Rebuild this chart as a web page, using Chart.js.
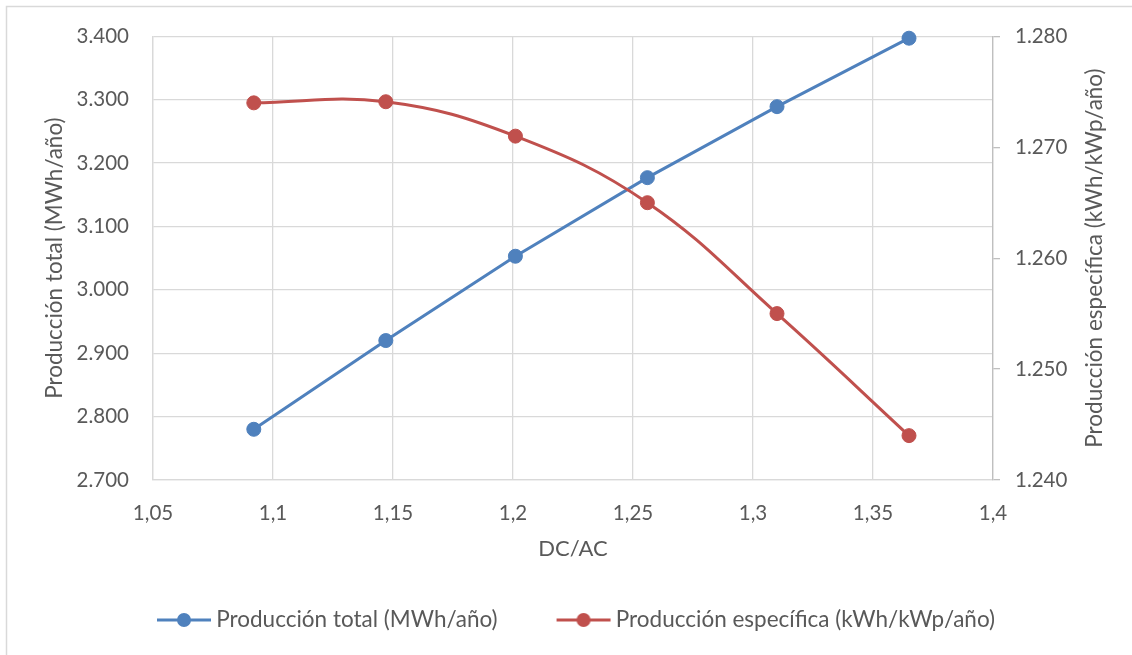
<!DOCTYPE html>
<html>
<head>
<meta charset="utf-8">
<script src="https://cdn.jsdelivr.net/npm/chart.js@4/dist/chart.umd.min.js"></script>
<style>
    html, body { margin: 0; padding: 0; background: #fff; }
    #wrap { width: 1132px; height: 655px; }
</style>
</head>
<body>
<div id="wrap"><canvas id="grafico" width="1132" height="655"></canvas></div>
<script>
// datos
const dcac = [1.092, 1.147, 1.201, 1.256, 1.310, 1.365];
const prodTotal = [2780, 2920, 3053, 3177, 3289, 3397];          // MWh/año
const prodEspecifica = [1274.0, 1274.1, 1271.0, 1265.0, 1255.0, 1244.0]; // kWh/kWp/año

const nombres = ['Producción total (MWh/año)', 'Producción específica (kWh/kWp/año)'];
const colores = ['#4F81BD', '#C0504D'];
const tituloDerecho = 'Producción específica (kWh/kWp/año)';

const fuente = 'Lato, "Open Sans", sans-serif';
const gris = '#595959';
const tamTitulo = 22.5;

function miles(v) {
    // 3400 -> 3.400
    let s = Math.round(v).toString();
    return s.replace(/\B(?=(\d{3})+(?!\d))/g, '.');
}
function decimal(v) {
    return (Math.round(v * 100) / 100).toString().replace('.', ',');
}

// icono de leyenda: linea con circulo (pegado a la derecha de la imagen)
const anchoCaja = 97;
function iconoLeyenda(color) {
    const c = document.createElement('canvas');
    c.width = anchoCaja + 14;
    c.height = 16;
    const ctx = c.getContext('2d');
    const x0 = c.width - 56;
    ctx.strokeStyle = color;
    ctx.lineWidth = 3;
    ctx.beginPath();
    ctx.moveTo(x0 + 1, 8);
    ctx.lineTo(x0 + 55, 8);
    ctx.stroke();
    ctx.fillStyle = color;
    ctx.beginPath();
    ctx.arc(x0 + 28, 8, 7, 0, Math.PI * 2);
    ctx.fill();
    return c;
}

const marco = {
    id: 'marco',
    beforeDraw(chart) {
        const ctx = chart.ctx;
        ctx.save();
        ctx.fillStyle = '#fff';
        ctx.fillRect(0, 0, chart.width, chart.height);
        ctx.strokeStyle = '#d9d9d9';
        ctx.lineWidth = 1.5;
        ctx.beginPath();
        ctx.moveTo(6.5, chart.height);
        ctx.lineTo(6.5, 6.5);
        ctx.lineTo(chart.width, 6.5);
        ctx.stroke();
        ctx.restore();
    },
    afterDraw(chart) {
        // titulo del eje derecho leido de abajo hacia arriba, como en Excel
        const ctx = chart.ctx;
        const a = chart.chartArea;
        ctx.save();
        ctx.translate(a.right + 102, (a.top + a.bottom) / 2);
        ctx.rotate(-Math.PI / 2);
        ctx.fillStyle = gris;
        ctx.font = tamTitulo + 'px ' + fuente;
        ctx.textAlign = 'center';
        ctx.textBaseline = 'middle';
        ctx.fillText(tituloDerecho, 0, 0);
        ctx.restore();
    }
};

const puntos = (ys) => dcac.map((x, i) => ({x: x, y: ys[i]}));

new Chart(document.getElementById('grafico'), {
    type: 'scatter',
    data: {
        datasets: [
            {
                label: nombres[0],
                data: puntos(prodTotal),
                yAxisID: 'y',
                showLine: true,
                tension: 0,
                borderColor: colores[0],
                backgroundColor: colores[0],
                borderWidth: 3,
                pointRadius: 7,
                pointBorderWidth: 1,
                clip: false,
                order: 1
            },
            {
                label: nombres[1],
                data: puntos(prodEspecifica),
                yAxisID: 'y1',
                showLine: true,
                tension: 0.4,
                borderColor: colores[1],
                backgroundColor: colores[1],
                borderWidth: 3,
                pointRadius: 7,
                pointBorderWidth: 1,
                clip: false,
                order: 0
            }
        ]
    },
    options: {
        responsive: false,
        animation: false,
        layout: { padding: { top: 35, bottom: 13.75, left: 0, right: 29 } },
        plugins: {
            tooltip: { enabled: false },
            legend: {
                position: 'bottom',
                labels: {
                    usePointStyle: true,
                    pointStyleWidth: anchoCaja,
                    padding: 10,
                    color: gris,
                    font: { family: fuente, size: 22.5 },
                    generateLabels: function (chart) {
                        return nombres.map((n, i) => ({
                            text: n,
                            fillStyle: colores[i],
                            strokeStyle: colores[i],
                            fontColor: gris,
                            lineWidth: 0,
                            pointStyle: iconoLeyenda(colores[i]),
                            datasetIndex: i,
                            hidden: false
                        }));
                    }
                }
            }
        },
        scales: {
            x: {
                type: 'linear',
                min: 1.05,
                max: 1.4,
                afterFit: (s) => { s.height = 118.75; },
                ticks: {
                    stepSize: 0.05,
                    padding: 21,
                    color: gris,
                    font: { family: fuente, size: 20.5 },
                    callback: (v) => decimal(v)
                },
                grid: { color: '#d9d9d9', lineWidth: 1.3, drawTicks: false },
                border: { color: '#d9d9d9', width: 1.3 },
                title: {
                    display: true,
                    text: 'DC/AC',
                    color: gris,
                    font: { family: fuente, size: 22 },
                    padding: { top: 0, bottom: 36.5 }
                }
            },
            y: {
                position: 'left',
                min: 2700,
                max: 3400,
                afterFit: (s) => { s.width = 153; },
                ticks: {
                    stepSize: 100,
                    padding: 24,
                    color: gris,
                    font: { family: fuente, size: 20.5 },
                    callback: (v) => miles(v)
                },
                grid: { color: '#d9d9d9', lineWidth: 1.3, drawTicks: false },
                border: { color: '#d9d9d9', width: 1.3 },
                title: {
                    display: true,
                    text: 'Producción total (MWh/año)',
                    color: gris,
                    font: { family: fuente, size: tamTitulo },
                    padding: { top: 41.5, bottom: 0 }
                }
            },
            y1: {
                position: 'right',
                min: 1240,
                max: 1280,
                afterFit: (s) => { s.width = 110; },
                ticks: {
                    stepSize: 10,
                    padding: 15,
                    color: gris,
                    font: { family: fuente, size: 20.5 },
                    callback: (v) => miles(v)
                },
                grid: { drawOnChartArea: false, color: '#bfbfbf', lineWidth: 1.3, tickLength: 7 },
                border: { color: '#bfbfbf', width: 1.3 },
                title: { display: false }
            }
        }
    },
    plugins: [marco]
});
</script>
</body>
</html>
